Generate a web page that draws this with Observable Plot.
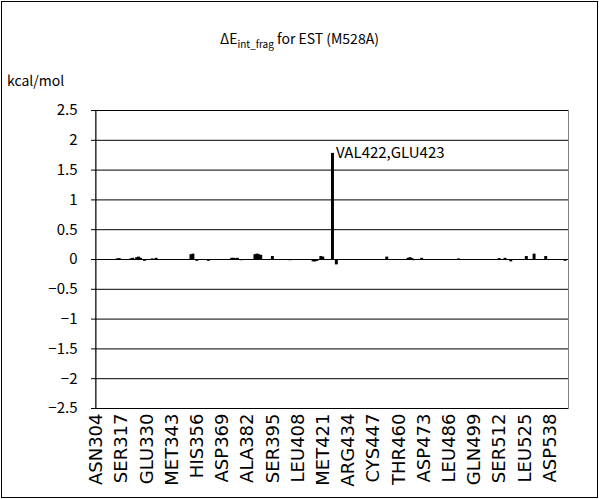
<!DOCTYPE html>
<html><head><meta charset="utf-8">
<script src="https://cdn.jsdelivr.net/npm/d3@7"></script>
<script src="https://cdn.jsdelivr.net/npm/@observablehq/plot@0.6"></script>
<style>
body{margin:0;background:#fff;}
#wrap{position:relative;width:599px;height:499px;font-family:"Noto Sans CJK JP","Liberation Sans",sans-serif;color:#000;}
#frame{position:absolute;left:1px;top:1px;width:595px;height:495px;border:1px solid #000;}
#title{position:absolute;top:28px;left:0;width:599px;text-align:center;font-size:14px;}
#title sub{font-size:10px;vertical-align:-4px;}
#unit{position:absolute;left:7px;top:70px;font-size:14px;}
#chart{position:absolute;left:0;top:0;}
</style>
</head><body>
<div id="wrap">
  <div id="frame"></div>
  <div id="title">ΔE<sub>int_frag</sub> for EST (M528A)</div>
  <div id="unit">kcal/mol</div>
  <div id="chart"></div>
</div>
<script>
// number of fragments on the x axis
const fragmentCount = 244;
// tick labels (every 13th fragment)
const tickIndex = [0,13,26,39,52,65,78,91,104,117,130,143,156,169,182,195,208,221,234];
const tickNames = ["ASN304","SER317","GLU330","MET343","HIS356","ASP369","ALA382","SER395","LEU408","MET421","ARG434","CYS447","THR460","ASP473","LEU486","GLN499","SER512","LEU525","ASP538"];
// nonzero bars: fragment index and energy (kcal/mol)
const barIndex = [11,12,18,19,21,22,23,25,29,31,49,50,52,58,64,70,71,72,73,75,82,83,84,85,91,100,112,113,114,116,117,122,124,131,133,139,150,156,160,161,162,163,164,168,178,187,208,211,214,222,226,232,242];
const barValue = [0.01,0.015,0.01,0.02,0.03,0.04,0.02,-0.03,0.01,0.02,0.08,0.09,-0.03,-0.03,-0.01,0.02,0.02,0.015,0.02,-0.02,0.08,0.09,0.08,0.07,0.05,-0.02,-0.04,-0.04,-0.03,0.05,0.04,1.78,-0.09,-0.01,-0.015,-0.015,0.04,-0.015,-0.01,0.02,0.03,0.015,-0.02,0.02,-0.01,0.01,0.015,0.02,-0.04,0.05,0.09,0.05,-0.03];
// annotation
const noteIndex = [122];
const noteValue = [1.78];
const noteText = ["VAL422,GLU423"];
const yTicks = [-2.5,-2,-1.5,-1,-0.5,0,0.5,1,1.5,2,2.5];

const bars = barIndex.map((i, k) => ({i, v: barValue[k]}));
const notes = noteIndex.map((i, k) => ({i, v: noteValue[k], t: noteText[k]}));
const nameOf = new Map(tickIndex.map((i, k) => [i, tickNames[k]]));

const chart = Plot.plot({
  width: 599, height: 499,
  marginLeft: 95, marginRight: 31, marginTop: 110, marginBottom: 91,
  style: {fontFamily: '"Noto Sans CJK JP","Liberation Sans",sans-serif', background: "transparent", color: "#000"},
  x: {type: "band", domain: d3.range(fragmentCount), padding: 0, axis: null},
  y: {domain: [-2.5, 2.5], axis: null},
  marks: [
    Plot.frame({stroke: "#808080"}),
    Plot.gridY(yTicks, {stroke: "#000", strokeOpacity: 1}),
    Plot.axisY(yTicks, {label: null, tickSize: 4, tickPadding: 14, fontSize: 15, tickFormat: d => d3.format("~g")(d).replace("-", "−")}),
    Plot.ruleX([0], {x: () => 0, stroke: "#000", dx: -0.5, frameAnchor: "left"}),
    Plot.barY(bars, {x: "i", y: "v", fill: "#000", insetLeft: -0.5, insetRight: -0.5}),
    Plot.ruleY([0], {stroke: "#000"}),
    Plot.text(notes, {x: "i", y: "v", text: "t", textAnchor: "start", dx: 3, dy: 0, fontSize: 15}),
    Plot.axisX(tickIndex, {label: null, anchor: "bottom", tickSize: 0, tickPadding: 5, tickRotate: -90, fontSize: 18, fontFamily: '"DejaVu Sans",sans-serif', tickFormat: i => nameOf.get(i)})
  ]
});
document.getElementById("chart").appendChild(chart);
</script>
</body></html>
